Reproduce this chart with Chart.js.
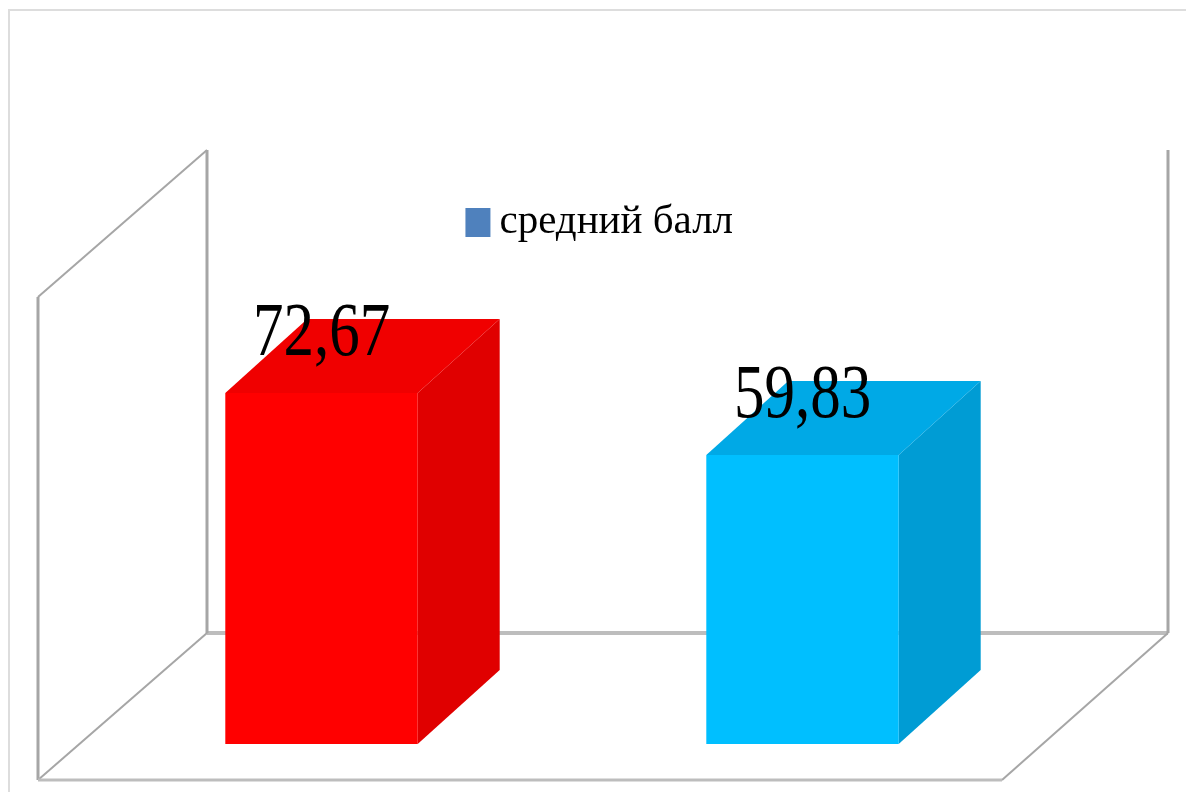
<!DOCTYPE html>
<html>
<head>
<meta charset="utf-8">
<title>средний балл</title>
<script src="https://cdn.jsdelivr.net/npm/chart.js@4"></script>
<style>
  html, body { margin: 0; padding: 0; background: #fff; overflow: hidden; }
  #wrap { width: 1186px; height: 792px; position: relative; }
  #sheet { position: absolute; left: 8px; top: 9px; right: 0; bottom: 0; border-left: 2px solid #ddd; border-top: 2px solid #ddd; }
  canvas { position: absolute; left: 0; top: 0; }
</style>
</head>
<body>
<div id="wrap">
  <div id="sheet"></div>
  <canvas id="chart" width="1186" height="792"></canvas>
</div>
<script>
const categories = ["", ""];
const seriesName = "средний балл";
const values = [72.67, 59.83];
const valueLabels = ["72,67", "59,83"];
const frontColors = ["#ff0000", "#00bfff"];
const sideColors = ["#e00000", "#009cd4"];
const topColors = ["#f00000", "#00a9e6"];

// 3d offsets, bars sit in the middle of the floor
const barDepth = { x: 82, y: 74 };
const wallColor = "#a6a6a6";
const backLineColor = "#bdbdbd";

function line(ctx, x1, y1, x2, y2, width) {
  ctx.lineWidth = width;
  ctx.beginPath();
  ctx.moveTo(x1, y1);
  ctx.lineTo(x2, y2);
  ctx.stroke();
}

function face(ctx, color, pts) {
  ctx.fillStyle = color;
  ctx.beginPath();
  pts.forEach((p, i) => (i ? ctx.lineTo(p[0], p[1]) : ctx.moveTo(p[0], p[1])));
  ctx.closePath();
  ctx.fill();
}

const fake3d = {
  id: "fake3d",
  afterLayout(chart) {
    // legend is not centred on the plot in the original
    const legend = chart.legend;
    legend.left += 43;
    legend.right += 43;
    legend.top -= 8;
    legend.bottom -= 8;
  },
  beforeDatasetsDraw(chart) {
    const { ctx, chartArea, scales } = chart;
    const zero = scales.y.getPixelForValue(0);
    const top = scales.y.getPixelForValue(scales.y.max);
    const l = chartArea.left, r = chartArea.right;

    ctx.save();
    ctx.strokeStyle = backLineColor;
    line(ctx, l + 126, zero - 111, r + 125, zero - 111, 4);
    ctx.strokeStyle = wallColor;
    // left wall
    line(ctx, l - 43, zero + 36, l - 43, top + 36, 3);
    line(ctx, l - 43, top + 36, l + 126, top - 111, 2);
    line(ctx, l + 126, top - 111, l + 126, zero - 111, 3);
    // right wall
    line(ctx, r + 125, top - 111, r + 125, zero - 111, 3);
    // floor
    line(ctx, l - 43, zero + 36, l + 126, zero - 111, 2);
    line(ctx, r + 125, zero - 111, r - 41, zero + 36, 2);
    ctx.strokeStyle = backLineColor;
    line(ctx, l - 43, zero + 36, r - 41, zero + 36, 3);

    // side and top of each bar
    chart.getDatasetMeta(0).data.forEach((bar, i) => {
      const x1 = bar.x - bar.width / 2, x2 = bar.x + bar.width / 2;
      const dx = barDepth.x, dy = barDepth.y;
      face(ctx, sideColors[i], [[x2, bar.y], [x2 + dx, bar.y - dy], [x2 + dx, bar.base - dy], [x2, bar.base]]);
      face(ctx, topColors[i], [[x1, bar.y], [x1 + dx, bar.y - dy], [x2 + dx, bar.y - dy], [x2, bar.y]]);
    });
    ctx.restore();
  },
  afterDatasetsDraw(chart) {
    const { ctx } = chart;
    ctx.save();
    ctx.fillStyle = "#000";
    ctx.textAlign = "center";
    ctx.textBaseline = "alphabetic";
    ctx.font = '61px "Liberation Serif"';
    chart.getDatasetMeta(0).data.forEach((bar, i) => {
      // the numbers are a bit stretched in height
      ctx.save();
      ctx.translate(bar.x, bar.y - 38);
      ctx.scale(1, 1.26);
      ctx.fillText(valueLabels[i], 0, 0);
      ctx.restore();
    });
    ctx.restore();
  }
};

new Chart(document.getElementById("chart"), {
  type: "bar",
  data: {
    labels: categories,
    datasets: [{
      label: seriesName,
      data: values,
      backgroundColor: frontColors,
      borderWidth: 0,
      categoryPercentage: 1,
      barPercentage: 0.4
    }]
  },
  options: {
    responsive: false,
    animation: false,
    layout: { padding: { left: 81, right: 143, top: 200, bottom: 48 } },
    scales: {
      x: { display: false },
      y: { display: false, min: 0, max: 100 }
    },
    plugins: {
      tooltip: { enabled: false },
      legend: {
        position: "top",
        onClick: null,
        labels: {
          color: "#000",
          font: { family: '"Liberation Serif"', size: 41 },
          boxWidth: 2,
          boxHeight: 6,
          padding: 10,
          // wide stroke makes the square, keeps the text close to it
          generateLabels: () => [{
            text: seriesName,
            fillStyle: "#4f81bd",
            strokeStyle: "#4f81bd",
            lineWidth: 23,
            hidden: false,
            datasetIndex: 0
          }]
        }
      }
    }
  },
  plugins: [fake3d]
});
</script>
</body>
</html>
